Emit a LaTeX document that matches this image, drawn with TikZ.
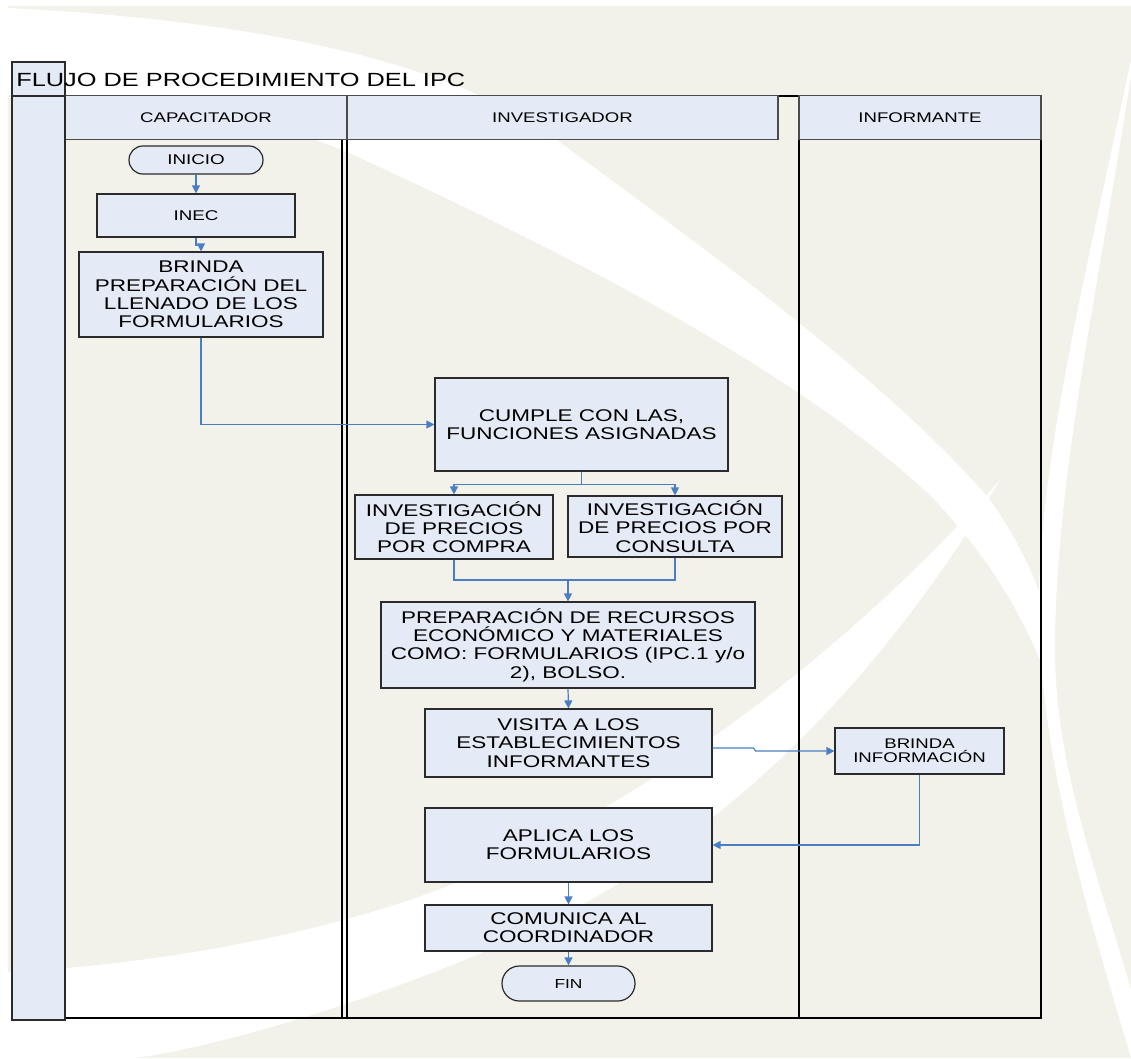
\documentclass[tikz,border=0pt]{standalone}
\usepackage{fontspec}
\setmainfont{Liberation Sans}[FakeStretch=1.33]
\usetikzlibrary{arrows.meta,calc}
\definecolor{bgbeige}{HTML}{F2F2EA}
\definecolor{boxblue}{HTML}{E5EBF6}
\definecolor{flowblue}{HTML}{4A7EC4}
\definecolor{edgegray}{HTML}{2B2B2B}
\begin{document}
\begin{tikzpicture}[x=0.75pt,y=-0.75pt,
  box/.style={draw=edgegray,line width=0.9pt,fill=boxblue,inner sep=0pt,align=center,
    font=\fontsize{12.7}{13.7}\selectfont},
  smallbox/.style={box,font=\fontsize{10.5}{10.7}\selectfont},
  term/.style={box,font=\fontsize{10.6}{12}\selectfont},
  hdr/.style={draw=edgegray!85,line width=0.9pt,fill=boxblue,inner sep=0pt,
    font=\fontsize{10.5}{12}\selectfont},
  bar/.style={draw=edgegray,line width=0.9pt,fill=boxblue,inner sep=0pt},
  lane/.style={draw=black,line width=0.9pt},
  flow/.style={draw=flowblue,line width=0.9pt},
  conn/.style={flow,-{Triangle[length=6pt,width=6pt]}}
]
\useasboundingbox (0,0) rectangle (1131,1058);
% background
\fill[white] (0,0) rectangle (1131,1058);
\fill[bgbeige] (8,6) rectangle (1131,1058);
% white swoosh A (top-left to lower right)
\fill[white] (8,8) .. controls (250,20) and (450,60) .. (557,140)
  .. controls (650,210) and (880,370) .. (990,500)
  .. controls (1015,535) and (1035,575) .. (1045,610)
  -- (1040,660) .. controls (1010,590) and (980,550) .. (935,500)
  .. controls (830,400) and (650,290) .. (347,152)
  .. controls (250,110) and (100,95) .. (8,95) -- cycle;
% white swoosh B (bottom-left to upper right)
\fill[white] (8,972) .. controls (150,965) and (330,935) .. (463,880)
  .. controls (650,800) and (850,650) .. (1000,480)
  .. controls (880,680) and (720,850) .. (500,945)
  .. controls (350,1010) and (200,1050) .. (134,1058) -- (8,1058) -- cycle;
% white arc R (right side)
\fill[white] (1131,60) .. controls (1080,300) and (1030,500) .. (1040,650)
  .. controls (1050,800) and (1100,950) .. (1131,1058)
  -- (1131,990) .. controls (1100,880) and (1055,770) .. (1055,650)
  .. controls (1055,480) and (1100,280) .. (1131,75) -- cycle;

% lanes
\draw[lane] (65,139) rectangle (342,1018);
\draw[lane] (347,96) rectangle (799,1018);
\draw[lane] (799,96) rectangle (1041,1018);
\draw[lane] (65,1018) -- (1041,1018);

% headers
\node[hdr,minimum width=211.5pt,minimum height=33pt] (hcap) at (206,117.5) {CAPACITADOR};
\node[hdr,minimum width=323.25pt,minimum height=33pt] (hinv) at (562.5,117.5) {INVESTIGADOR};
\node[hdr,minimum width=181.5pt,minimum height=33pt] (hinf) at (920,117.5) {INFORMANTE};

% left column
\node[bar,minimum width=39.75pt,minimum height=25.5pt] (tcell) at (38.5,79) {};
\node[bar,minimum width=39.75pt,minimum height=693pt] (lbar) at (38.5,558) {};
\node[anchor=base west,inner sep=0pt,font=\fontsize{14.3}{16}\selectfont] (title) at (16,86) {FLUJO DE PROCEDIMIENTO DEL IPC};

% flow nodes
\node[term,rounded corners=10.4pt,minimum width=100.5pt,minimum height=21pt] (inicio) at (196,160) {INICIO};
\node[term,minimum width=148.5pt,minimum height=32.25pt] (inec) at (196,215.5) {INEC};
\node[box,minimum width=183pt,minimum height=63.75pt] (brinda1) at (201,294.5) {BRINDA\\PREPARACIÓN DEL\\LLENADO DE LOS\\FORMULARIOS};
\node[box,minimum width=219.75pt,minimum height=69.75pt] (cumple) at (581.5,424.5) {CUMPLE CON LAS,\\FUNCIONES ASIGNADAS};
\node[box,minimum width=148.5pt,minimum height=48pt] (compra) at (454,527) {INVESTIGACIÓN\\DE PRECIOS\\POR COMPRA};
\node[box,minimum width=160.5pt,minimum height=45.75pt] (consulta) at (675,526.5) {INVESTIGACIÓN\\DE PRECIOS POR\\CONSULTA};
\node[box,minimum width=280.5pt,minimum height=64.5pt] (prep) at (568,645) {PREPARACIÓN DE RECURSOS\\ECONÓMICO Y MATERIALES\\COMO: FORMULARIOS (IPC.1 y/o\\2), BOLSO.};
\node[box,minimum width=215.25pt,minimum height=51pt] (visita) at (568.5,743) {VISITA A LOS\\ESTABLECIMIENTOS\\INFORMANTES};
\node[smallbox,minimum width=126.75pt,minimum height=34.5pt] (brinda2) at (919.5,751) {BRINDA\\INFORMACIÓN};
\node[box,minimum width=215.25pt,minimum height=55.5pt] (aplica) at (568.5,845) {APLICA LOS\\FORMULARIOS};
\node[box,minimum width=215.25pt,minimum height=34.5pt] (comunica) at (568.5,928) {COMUNICA AL\\COORDINADOR};
\node[term,font=\fontsize{9.8}{11}\selectfont,rounded corners=13pt,minimum width=99.75pt,minimum height=26.25pt] (fin) at (568.5,983.5) {FIN};

% connectors
\coordinate (j1) at (568,580);
\draw[conn] (inicio.south) -- (inec.north);
\draw[conn] (inec.south) -- ++(0,8) -| (brinda1.north);
\draw[conn] (brinda1.south) |- (cumple.west);
\draw[conn] (cumple.south) -- ++(0,13) -| (compra.north);
\draw[conn] (cumple.south) -- ++(0,13) -| (consulta.north);
\draw[flow] (compra.south) |- (j1);
\draw[flow] (consulta.south) |- (j1);
\draw[conn] (j1) -- (prep.north);
\draw[conn] (prep.south) -- (visita.north);
\draw[conn] ([yshift=-3.75pt]visita.east) -- ++(41,0) -- ++(2,3) -- (brinda2.west);
\draw[conn] (brinda2.south) |- (aplica.east);
\draw[conn] (aplica.south) -- (comunica.north);
\draw[conn] (comunica.south) -- (fin.north);
\end{tikzpicture}
\end{document}
